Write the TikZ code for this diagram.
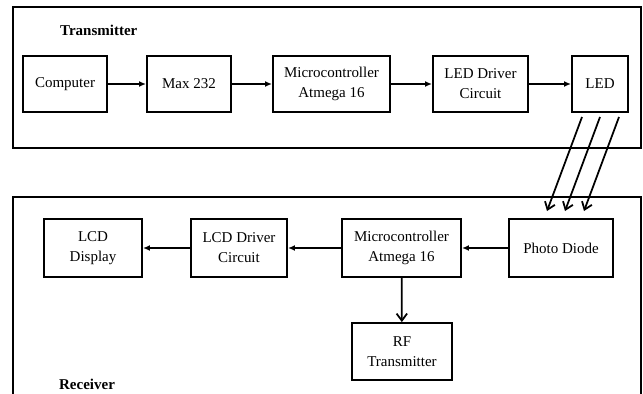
\documentclass[tikz,border=0pt]{standalone}
\usepackage{fontspec}
\setmainfont{Liberation Serif}
\usetikzlibrary{arrows.meta}
\begin{document}
\begin{tikzpicture}[x=0.03cm, y=-0.03cm,
  blk/.style={draw, rectangle, align=center, line width=1.6pt, inner sep=0pt, minimum height=56*0.03cm, font=\fontsize{12.8}{17}\selectfont},
  lbl/.style={anchor=west, font=\fontsize{12.8}{15}\selectfont\bfseries},
  flow/.style={line width=1.6pt, -{Latex[length=6pt,width=5pt]}},
  beam/.style={line width=1.5pt, -{Straight Barb[length=6pt,width=9pt,line width=1.5pt]}}]
\useasboundingbox (0,0) rectangle (643,394);
% outer frames
\draw[line width=1.6pt] (13,7) rectangle (641,148);
\draw[line width=1.6pt] (13,400) -- (13,197) -- (641,197) -- (641,400);
\node[lbl] (tx) at (56,30) {Transmitter};
\node[lbl] (rx) at (55,384) {Receiver};
% transmitter
\node[blk, minimum width=84*0.03cm] (a) at (65,84) {Computer};
\node[blk, minimum width=84*0.03cm] (b) at (189,84) {Max 232};
\node[blk, minimum width=117*0.03cm] (c) at (331.5,84) {Microcontroller\\Atmega 16};
\node[blk, minimum width=95*0.03cm] (d) at (480.5,84) {LED Driver\\Circuit};
\node[blk, minimum width=56*0.03cm] (e) at (600,84) {LED};
\draw[flow] (a) -- (b);
\draw[flow] (b) -- (c);
\draw[flow] (c) -- (d);
\draw[flow] (d) -- (e);
% receiver
\node[blk, minimum width=98*0.03cm, minimum height=58*0.03cm] (f) at (93,248) {LCD\\Display};
\node[blk, minimum width=96*0.03cm, minimum height=58*0.03cm] (g) at (239,248) {LCD Driver\\Circuit};
\node[blk, minimum width=119*0.03cm, minimum height=58*0.03cm] (h) at (401.5,248) {Microcontroller\\Atmega 16};
\node[blk, minimum width=104*0.03cm, minimum height=58*0.03cm] (i) at (561,248) {Photo Diode};
\node[blk, minimum width=100*0.03cm, minimum height=57*0.03cm] (j) at (402,351.5) {RF\\Transmitter};
\draw[flow] (i) -- (h);
\draw[flow] (h) -- (g);
\draw[flow] (g) -- (f);
\draw[beam] (h) -- (j);
% light from LED to photo diode
\coordinate (s1) at (582,117);
\coordinate (s2) at (600,117);
\coordinate (s3) at (619,117);
\coordinate (t1) at (547,211);
\coordinate (t2) at (565,211);
\coordinate (t3) at (584,211);
\draw[beam] (s1) -- (t1);
\draw[beam] (s2) -- (t2);
\draw[beam] (s3) -- (t3);
\end{tikzpicture}
\end{document}
